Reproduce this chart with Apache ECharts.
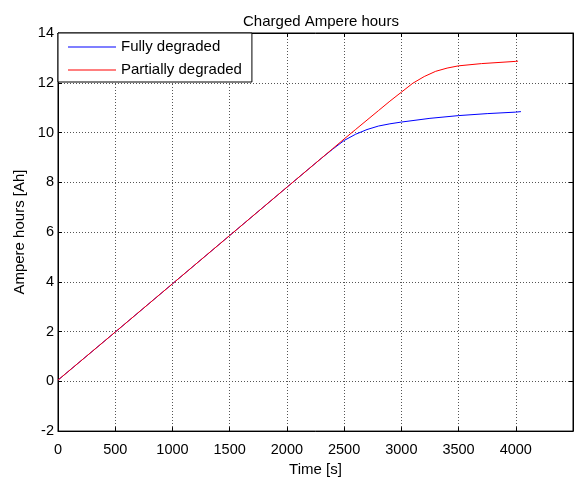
<!DOCTYPE html>
<html><head><meta charset="utf-8">
<script src="https://cdn.jsdelivr.net/npm/echarts@6/dist/echarts.min.js"></script>
<style>html,body{margin:0;padding:0;background:#fff}#c{width:576px;height:482px}</style>
</head><body><div id="c"></div>
<script>
var titleText = 'Charged Ampere hours';
var xName = 'Time [s]';
var yName = 'Ampere hours [Ah]';
var seriesNames = ['Fully degraded', 'Partially degraded'];
var fullyTime = [0,500,1000,1500,2000,2300,2400,2500,2600,2700,2800,2900,3000,3250,3500,3750,4000,4045];
var fullyAh = [0.05,1.98,3.92,5.86,7.8,8.96,9.33,9.68,9.93,10.12,10.26,10.35,10.42,10.57,10.68,10.76,10.82,10.84];
var partTime = [0,500,1000,1500,2000,2300,2400,2500,2600,2700,2800,2900,3000,3100,3200,3300,3400,3500,3700,4000,4020];
var partAh = [0.05,1.98,3.92,5.86,7.8,8.96,9.35,9.74,10.12,10.5,10.88,11.26,11.62,11.98,12.25,12.46,12.59,12.68,12.77,12.86,12.87];

function pairs(t, v){ return t.map(function(x,i){return [x, v[i]];}); }
var font = 'Liberation Sans, Arial, sans-serif';
var chart = echarts.init(document.getElementById('c'), null, {renderer:'canvas'});
var gridLine = {show:true, lineStyle:{type:[1,2], color:'#555', width:1}};
chart.setOption({
  animation:false,
  backgroundColor:'#fff',
  title:{text:titleText, left:316, top:9, textAlign:'center',
    textStyle:{fontFamily:font, fontSize:15, fontWeight:'normal', color:'#000'}},
  legend:{orient:'vertical', left:58, top:33, data:seriesNames, icon:'rect',
    backgroundColor:'#fff', borderColor:'#000', borderWidth:1, borderRadius:0,
    padding:[6,10,4,10], itemWidth:48, itemHeight:1, itemGap:7,
    textStyle:{fontFamily:font, fontSize:15, lineHeight:16, color:'#000'}},
  grid:{left:58, right:1, top:33, bottom:41, show:true, borderColor:'#000', borderWidth:1},
  xAxis:[{type:'value', min:0, max:4500, interval:500, name:xName, nameLocation:'middle', nameGap:27,
    nameTextStyle:{fontFamily:font, fontSize:15, color:'#000'},
    axisLine:{show:true, onZero:false, lineStyle:{color:'#000', width:1}},
    axisTick:{show:true, inside:true, length:4, lineStyle:{color:'#000'}},
    axisLabel:{fontFamily:font, fontSize:14.5, color:'#000', margin:11,
      formatter:function(v){return v>=4500?'':String(v);}},
    splitLine:gridLine},
   {type:'value', position:'top', min:0, max:4500, interval:500,
    axisLine:{show:true, onZero:false, lineStyle:{color:'#000'}},
    axisTick:{show:true, inside:true, length:4, lineStyle:{color:'#000'}},
    axisLabel:{show:false}, splitLine:{show:false}}],
  yAxis:[{type:'value', min:-2, max:14, interval:2, name:yName, nameLocation:'middle', nameGap:31,
    nameTextStyle:{fontFamily:font, fontSize:15, color:'#000'},
    axisLine:{show:true, onZero:false, lineStyle:{color:'#000', width:1}},
    axisTick:{show:true, inside:true, length:4, lineStyle:{color:'#000'}},
    axisLabel:{fontFamily:font, fontSize:14.5, color:'#000', margin:4},
    splitLine:gridLine},
   {type:'value', position:'right', min:-2, max:14, interval:2,
    axisLine:{show:true, onZero:false, lineStyle:{color:'#000'}},
    axisTick:{show:true, inside:true, length:4, lineStyle:{color:'#000'}},
    axisLabel:{show:false}, splitLine:{show:false}}],
  series:[
    {name:seriesNames[0], type:'line', data:pairs(fullyTime, fullyAh), showSymbol:false, symbol:'none',
      color:'#0000ff', lineStyle:{color:'#0000ff', width:1}, z:2},
    {name:seriesNames[1], type:'line', data:pairs(partTime, partAh), showSymbol:false, symbol:'none',
      color:'#ff0000', lineStyle:{color:'#ff0000', width:1}, z:3}
  ]
});
</script></body></html>
